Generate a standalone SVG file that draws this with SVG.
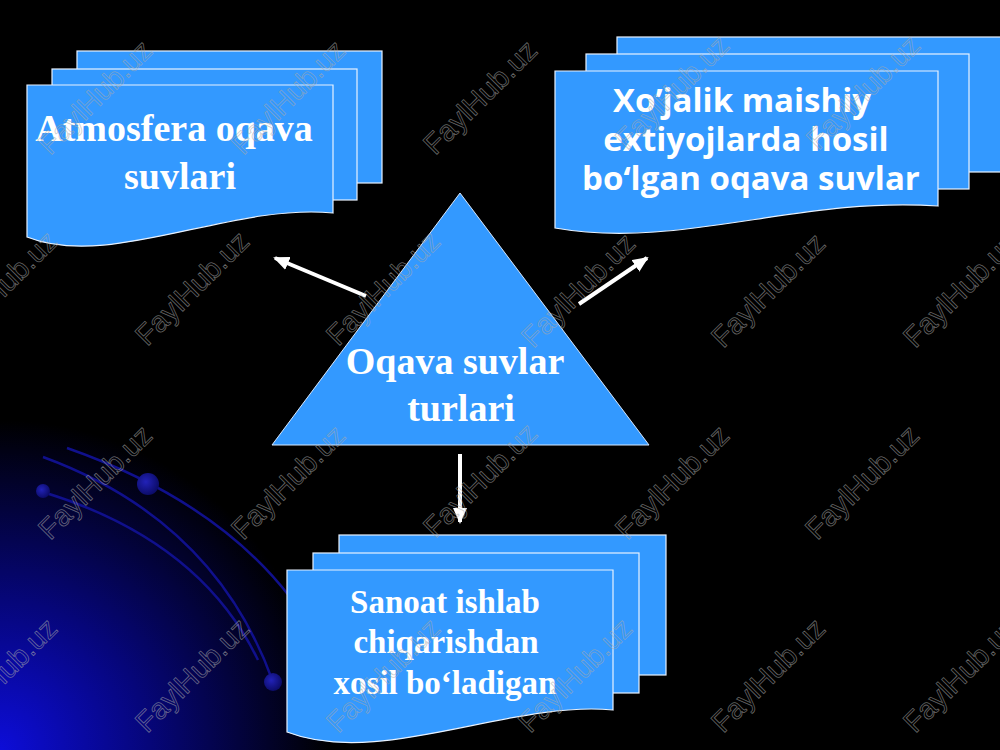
<svg xmlns="http://www.w3.org/2000/svg" width="1000" height="750" viewBox="0 0 1000 750">
<defs>
<radialGradient id="bg" cx="0" cy="750" r="330" gradientUnits="userSpaceOnUse">
<stop offset="0" stop-color="#0d0dd8"/>
<stop offset="0.45" stop-color="#06067a"/>
<stop offset="1" stop-color="#000000"/>
</radialGradient>
<radialGradient id="dot" cx="0.4" cy="0.4" r="0.6">
<stop offset="0" stop-color="#2222b8"/>
<stop offset="1" stop-color="#0c0c6a"/>
</radialGradient>
<marker id="ah" markerWidth="16" markerHeight="14" refX="14" refY="7" orient="auto" markerUnits="userSpaceOnUse">
<path d="M0,0 L16,7 L0,14 Z" fill="#ffffff"/>
</marker>
<style>
.sheet{fill:#3399ff;stroke:#e8f2ff;stroke-width:1.2}
.tri{fill:#3399ff;stroke:#d6e8ff;stroke-width:1}
.serif{font-family:"Liberation Serif","Times New Roman",serif;font-weight:bold;fill:#ffffff;text-anchor:middle}
.sans{font-family:"Open Sans","Noto Sans",sans-serif;font-weight:bold;fill:#ffffff;text-anchor:middle}
.arc{fill:none;stroke:#10108c;stroke-width:2.5}
.conn{stroke:#ffffff;stroke-width:4;fill:none}
.wm{font-family:"Liberation Sans",Arial,sans-serif;font-size:29px;fill:none;stroke:#a8a8a8;stroke-width:0.8;stroke-opacity:0.6;text-anchor:middle}
</style>
</defs>
<rect x="0" y="0" width="1000" height="750" fill="#000000"/>
<rect x="0" y="0" width="1000" height="750" fill="url(#bg)"/>
<g id="background-arcs">
<path class="arc" d="M67,448 Q215,500 290,597"/>
<path class="arc" d="M43,457 Q215,520 273,682"/>
<path class="arc" d="M43,492 Q200,540 258,660"/>
<circle cx="148" cy="484" r="11" fill="url(#dot)"/>
<circle cx="43" cy="491" r="7" fill="url(#dot)"/>
<circle cx="273" cy="682" r="9" fill="url(#dot)"/>
</g>
<g id="connectors">
<line class="conn" x1="366" y1="296" x2="275" y2="258" marker-end="url(#ah)"/>
<line class="conn" x1="579" y1="304" x2="647" y2="258" marker-end="url(#ah)"/>
<line class="conn" x1="460" y1="454" x2="460" y2="522" marker-end="url(#ah)"/>
</g>
<g id="node-atmosfera">
<rect class="sheet" x="77" y="51" width="305" height="132"/>
<rect class="sheet" x="52" y="69" width="305" height="131"/>
<path class="sheet" d="M27,85 H333 V213 C230,203 110,270 27,237 Z"/>
<text class="serif" x="174" y="141" font-size="38">Atmosfera oqava</text>
<text class="serif" x="180" y="189" font-size="38">suvlari</text>
</g>
<g id="node-xojalik">
<rect class="sheet" x="617" y="37" width="390" height="135"/>
<rect class="sheet" x="586" y="54" width="383" height="135"/>
<path class="sheet" d="M555,71 H938 V206 C800,196 680,250 555,228 Z"/>
<text class="sans" x="742" y="112" font-size="33">Xo’jalik maishiy</text>
<text class="sans" x="746" y="151" font-size="33">extiyojlarda hosil</text>
<text class="sans" x="751" y="190" font-size="33">bo‘lgan oqava suvlar</text>
</g>
<g id="node-center">
<path class="tri" d="M460,193 L649,445 L272,445 Z"/>
<text class="serif" x="455" y="374" font-size="38">Oqava suvlar</text>
<text class="serif" x="461" y="421" font-size="38">turlari</text>
</g>
<g id="node-sanoat">
<rect class="sheet" x="339" y="535" width="327" height="140"/>
<rect class="sheet" x="313" y="553" width="326" height="140"/>
<path class="sheet" d="M287,570 H613 V710 C510,700 380,768 287,732 Z"/>
<text class="serif" x="445" y="613" font-size="33">Sanoat ishlab</text>
<text class="serif" x="446" y="653" font-size="33">chiqarishdan</text>
<text class="serif" x="445" y="694" font-size="33">xosil bo‘ladigan</text>
</g>
<g id="watermarks">
<text class="wm" transform="translate(95,97) rotate(-45)" y="10">FaylHub.uz</text>
<text class="wm" transform="translate(288,97) rotate(-45)" y="10">FaylHub.uz</text>
<text class="wm" transform="translate(480,97) rotate(-45)" y="10">FaylHub.uz</text>
<text class="wm" transform="translate(672,92) rotate(-45)" y="10">FaylHub.uz</text>
<text class="wm" transform="translate(863,92) rotate(-45)" y="10">FaylHub.uz</text>
<text class="wm" transform="translate(0,288) rotate(-45)" y="10">FaylHub.uz</text>
<text class="wm" transform="translate(192,288) rotate(-45)" y="10">FaylHub.uz</text>
<text class="wm" transform="translate(383,288) rotate(-45)" y="10">FaylHub.uz</text>
<text class="wm" transform="translate(578,290) rotate(-45)" y="10">FaylHub.uz</text>
<text class="wm" transform="translate(768,290) rotate(-45)" y="10">FaylHub.uz</text>
<text class="wm" transform="translate(960,290) rotate(-45)" y="10">FaylHub.uz</text>
<text class="wm" transform="translate(95,482) rotate(-45)" y="10">FaylHub.uz</text>
<text class="wm" transform="translate(288,482) rotate(-45)" y="10">FaylHub.uz</text>
<text class="wm" transform="translate(480,480) rotate(-45)" y="10">FaylHub.uz</text>
<text class="wm" transform="translate(672,482) rotate(-45)" y="10">FaylHub.uz</text>
<text class="wm" transform="translate(862,482) rotate(-45)" y="10">FaylHub.uz</text>
<text class="wm" transform="translate(0,675) rotate(-45)" y="10">FaylHub.uz</text>
<text class="wm" transform="translate(192,675) rotate(-45)" y="10">FaylHub.uz</text>
<text class="wm" transform="translate(383,675) rotate(-45)" y="10">FaylHub.uz</text>
<text class="wm" transform="translate(575,675) rotate(-45)" y="10">FaylHub.uz</text>
<text class="wm" transform="translate(768,675) rotate(-45)" y="10">FaylHub.uz</text>
<text class="wm" transform="translate(960,675) rotate(-45)" y="10">FaylHub.uz</text>
</g>
</svg>
